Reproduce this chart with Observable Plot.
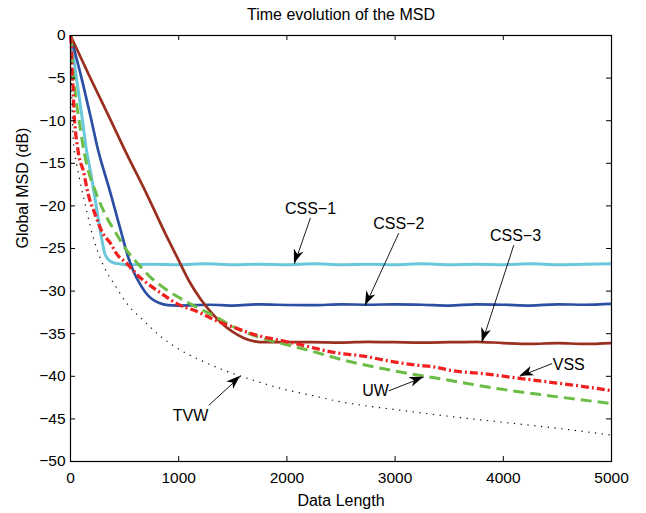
<!DOCTYPE html>
<html>
<head>
<meta charset="utf-8">
<script src="https://cdn.jsdelivr.net/npm/d3@7"></script>
<script src="https://cdn.jsdelivr.net/npm/@observablehq/plot@0.6"></script>
<style>
  html, body { margin: 0; padding: 0; background: #fff; }
  #chart { width: 646px; height: 513px; }
</style>
</head>
<body>
<div id="chart"></div>
<script>
// ---- Data ----
const titleText = "Time evolution of the MSD";
const xLabel = "Data Length";
const yLabel = "Global MSD (dB)";
const xTicks = [0, 1000, 2000, 3000, 4000, 5000];
const yTicks = [0, -5, -10, -15, -20, -25, -30, -35, -40, -45, -50];

const css1X = [0, 55, 111, 148, 194, 240, 286, 317, 350, 394, 450, 520, 750, 1000, 1250, 1500, 1750, 2000, 2250, 2500, 2750, 3000, 3250, 3500, 3750, 4000, 4250, 4500, 4750, 5000];
const css1Y = [0, -5, -10, -13.5, -16.6, -20.2, -23.7, -25.6, -26.3, -26.65, -26.8, -26.9, -26.85, -26.9, -26.8, -26.9, -26.85, -26.9, -26.8, -26.9, -26.85, -26.9, -26.8, -26.9, -26.85, -26.9, -26.8, -26.9, -26.85, -26.8];

const css2X = [0, 102, 194, 256, 286, 363, 456, 533, 580, 630, 690, 750, 820, 900, 986, 1294, 1500, 1750, 1910, 2250, 2500, 2750, 3000, 3250, 3500, 3750, 4000, 4250, 4500, 4750, 5000];
const css2Y = [0, -5, -10, -13.5, -14.9, -18.2, -22.5, -26.0, -27.6, -28.9, -30.1, -30.9, -31.4, -31.65, -31.7, -31.6, -31.7, -31.55, -31.6, -31.65, -31.55, -31.6, -31.55, -31.6, -31.7, -31.55, -31.6, -31.7, -31.55, -31.6, -31.5];

const css3X = [0, 180, 370, 500, 700, 890, 1000, 1100, 1200, 1300, 1400, 1500, 1600, 1700, 1800, 1910, 2218, 2500, 2750, 3000, 3250, 3500, 3750, 4000, 4250, 4500, 4750, 5000];
const css3Y = [0, -4.9, -9.9, -13.4, -18.5, -23.6, -26.4, -28.9, -30.9, -32.5, -33.8, -34.8, -35.5, -35.9, -36.0, -36.0, -36.0, -36.05, -35.95, -36.0, -36.05, -36.0, -35.95, -36.1, -36.2, -36.1, -36.2, -36.1];

const vssX = [0, 9, 15, 25, 31, 46, 65, 80, 117, 163, 225, 302, 370, 425, 524, 625, 700, 832, 986, 1171, 1356, 1541, 1725, 1910, 2095, 2434, 2742, 2896, 3204, 3358, 3512, 3820, 4128, 4436, 4744, 5000];
const vssY = [0, -1.5, -4.5, -6.3, -8.5, -11.2, -13.1, -14.3, -15.8, -18.6, -20.9, -23.3, -24.4, -25.6, -26.8, -28.2, -29.0, -30.2, -31.5, -32.4, -33.5, -34.4, -35.2, -35.7, -36.2, -37.2, -37.7, -38.1, -38.7, -38.9, -39.3, -39.7, -40.2, -40.7, -41.2, -41.7];

const uwX = [0, 9, 15, 31, 55, 80, 111, 142, 240, 333, 425, 518, 610, 733, 862, 1078, 1294, 1541, 1787, 1972, 2126, 2588, 3050, 3512, 3974, 4436, 5000];
const uwY = [0, -0.6, -2.8, -5.1, -7.9, -10, -12.6, -14.7, -18.6, -21.3, -23.3, -25.2, -26.6, -28.3, -29.6, -31.3, -32.7, -34.4, -35.6, -36.2, -36.7, -38.3, -39.5, -40.5, -41.5, -42.3, -43.2];

const tvwX = [0, 8, 18, 30, 55, 86, 148, 210, 271, 363, 400, 524, 678, 832, 1000, 1200, 1400, 1600, 1800, 2000, 2250, 2500, 2750, 3000, 3500, 4000, 4500, 5000];
const tvwY = [0, -5, -10, -13, -15, -17, -20.5, -23.7, -26.0, -28.4, -29.1, -31.5, -33.5, -35.3, -36.8, -38.1, -39.2, -40.1, -40.9, -41.6, -42.3, -43.0, -43.5, -43.9, -44.7, -45.4, -46.1, -46.9];

// annotations: label text, text anchor point, arrow start, arrow tip (data units)
const annLabels = ["CSS−1", "CSS−2", "CSS−3", "VSS", "UW", "TVW"];
const annTextX = [2218, 3034, 4113, 4605, 2819, 1109];
const annTextY = [-20.3, -22.1, -23.5, -38.7, -41.7, -44.6];
const annFromX = [2218, 3034, 4097, 4452, 2942, 1278];
const annFromY = [-21.4, -23.2, -24.6, -38.5, -41.7, -43.4];
const annTipX = [2070, 2726, 3805, 4153, 3265, 1571];
const annTipY = [-26.8, -31.7, -36.0, -40.0, -40.1, -40.0];

// ---- Build tables ----
const toRows = (xs, ys) => xs.map((x, i) => ({x, y: ys[i]}));
const ann = annLabels.map((label, i) => ({
  label, tx: annTextX[i], ty: annTextY[i],
  x1: annFromX[i], y1: annFromY[i], x2: annTipX[i], y2: annTipY[i]
}));

const W = 646, H = 513;
const mL = 70, mR = 35, mT = 35, mB = 52;
const plotW = W - mL - mR, plotH = H - mT - mB;
const font = "'Liberation Sans', Arial, Helvetica, sans-serif";
const lineOpts = {x: "x", y: "y", curve: "monotone-x", strokeLinecap: "butt", strokeLinejoin: "round"};

const chart = Plot.plot({
  width: W, height: H,
  marginLeft: mL, marginRight: mR, marginTop: mT, marginBottom: mB,
  style: {fontFamily: font, fontSize: "16px", background: "#fff", color: "#000"},
  x: {domain: [0, 5000], ticks: xTicks},
  y: {domain: [-50, 0], ticks: yTicks},
  marks: [
    Plot.line(toRows(css1X, css1Y), {...lineOpts, stroke: "#69c8da", strokeWidth: 3}),
    Plot.line(toRows(css2X, css2Y), {...lineOpts, stroke: "#2c4fa3", strokeWidth: 2.7}),
    Plot.line(toRows(css3X, css3Y), {...lineOpts, stroke: "#992f1e", strokeWidth: 2.7}),
    Plot.line(toRows(uwX, uwY), {...lineOpts, stroke: "#6cbd45", strokeWidth: 3, strokeDasharray: "11 6"}),
    Plot.line(toRows(vssX, vssY), {...lineOpts, stroke: "#f02020", strokeWidth: 3.3, strokeDasharray: "8 3 2 3"}),
    Plot.line(toRows(tvwX, tvwY), {...lineOpts, stroke: "#111", strokeWidth: 1.2, strokeDasharray: "1.3 5.5"}),
    // inward ticks (MATLAB style), all four sides
    Plot.ruleX(xTicks, {x: d => d, insetTop: plotH - 5, stroke: "#000"}),
    Plot.ruleX(xTicks, {x: d => d, insetBottom: plotH - 5, stroke: "#000"}),
    Plot.ruleY(yTicks, {y: d => d, insetRight: plotW - 5, stroke: "#000"}),
    Plot.ruleY(yTicks, {y: d => d, insetLeft: plotW - 5, stroke: "#000"}),
    Plot.frame({stroke: "#000", strokeWidth: 1.2}),
    Plot.axisX({ticks: xTicks, tickSize: 0, tickPadding: 10, tickFormat: d3.format("d"), fontSize: 15.5, label: null}),
    Plot.axisY({ticks: yTicks, tickSize: 0, tickPadding: 5, tickFormat: d3.format("d"), fontSize: 15.5, label: null}),
    // annotations
    Plot.link(ann, {x1: "x1", y1: "y1", x2: "x2", y2: "y2", stroke: "#000", strokeWidth: 0.9}),
    Plot.text(ann, {x: "tx", y: "ty", text: "label", fontSize: 16, fill: "#000", textAnchor: "middle", lineAnchor: "middle"}),
    // titles
    Plot.text([titleText], {frameAnchor: "top", dy: -21, fontSize: 16, fill: "#000", lineAnchor: "middle"}),
    Plot.text([xLabel], {frameAnchor: "bottom", dy: 39, fontSize: 16, fill: "#000", lineAnchor: "middle"}),
    Plot.text([yLabel], {frameAnchor: "left", dx: -48, rotate: -90, fontSize: 16, fill: "#000", lineAnchor: "middle"})
  ]
});

// filled arrowheads placed through the chart's own scales
const sx = chart.scale("x"), sy = chart.scale("y");
d3.select(chart).append("g")
  .selectAll("path").data(ann).join("path")
  .attr("fill", "#000")
  .attr("d", "M0,0L-14,-5L-10,0L-14,5Z")
  .attr("transform", d => {
    const px = sx.apply(d.x2), py = sy.apply(d.y2);
    const qx = sx.apply(d.x1), qy = sy.apply(d.y1);
    const a = Math.atan2(py - qy, px - qx) * 180 / Math.PI;
    return `translate(${px},${py}) rotate(${a})`;
  });

document.getElementById("chart").appendChild(chart);
</script>
</body>
</html>
